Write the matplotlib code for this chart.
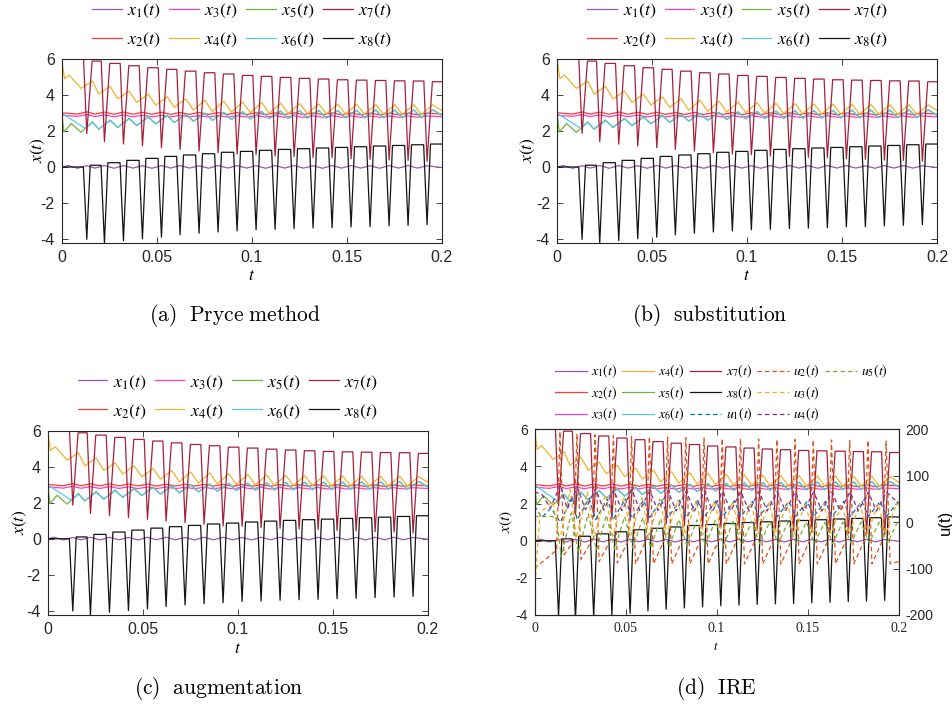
import matplotlib
matplotlib.use("Agg")
import matplotlib.pyplot as plt
from matplotlib.font_manager import FontProperties
from matplotlib.lines import Line2D

# times of the x7 / x8 troughs, one per switching cycle
t_drop = [0.0132, 0.0225, 0.0325, 0.0425, 0.0525, 0.0623, 0.0723, 0.0823, 0.0923, 0.1023,
          0.1123, 0.1223, 0.1323, 0.1423, 0.1523, 0.1623, 0.1723, 0.1823, 0.1923]

# x7: plateau levels (before each drop, last one at t=0.2) and troughs
x7_top = [6.0, 5.9, 5.77, 5.64, 5.53, 5.44, 5.34, 5.25, 5.18, 5.10,
          5.05, 4.99, 4.94, 4.90, 4.86, 4.84, 4.82, 4.80, 4.79, 4.75]
x7_low = [1.87, 1.41, 1.28, 1.17, 1.08, 0.98, 0.89, 0.80, 0.72, 0.69,
          0.61, 0.58, 0.54, 0.52, 0.46, 0.43, 0.39, 0.37, 0.32]
# x8
x8_top = [0.0, 0.1, 0.24, 0.37, 0.48, 0.59, 0.67, 0.74, 0.82, 0.87,
          0.93, 0.98, 1.02, 1.06, 1.09, 1.13, 1.17, 1.2, 1.24, 1.28]
x8_low = [-4.03, -4.25, -4.1, -4.0, -3.91, -3.78, -3.69, -3.62, -3.56, -3.5,
          -3.47, -3.43, -3.40, -3.38, -3.34, -3.32, -3.28, -3.25, -3.21]
# x4
x4_lo = [4.38, 4.06, 3.8, 3.6, 3.45, 3.32, 3.17, 3.1, 3.06, 3.03,
         3.0, 2.98, 2.97, 2.96, 2.95, 2.95, 2.94, 2.94, 2.93]
x4_hi = [4.79, 4.5, 4.23, 4.06, 3.91, 3.8, 3.72, 3.66, 3.62, 3.58,
         3.55, 3.53, 3.51, 3.50, 3.49, 3.48, 3.47, 3.47, 3.46]
# x5
x5_lo = [1.93, 2.1, 2.2, 2.3, 2.4, 2.48, 2.55, 2.6, 2.64, 2.68,
         2.7, 2.71, 2.72, 2.73, 2.74, 2.74, 2.75, 2.75, 2.75]
x5_hi = [2.52, 2.62, 2.71, 2.8, 2.88, 2.95, 3.0, 3.05, 3.08, 3.1,
         3.12, 3.14, 3.15, 3.16, 3.17, 3.18, 3.18, 3.19, 3.19]
# x6
x6_lo = [None, 2.12, 2.22, 2.32, 2.41, 2.49, 2.56, 2.61, 2.65, 2.68,
         2.7, 2.71, 2.72, 2.73, 2.73, 2.74, 2.74, 2.75, 2.75]
x6_hi = [2.48, 2.58, 2.68, 2.77, 2.85, 2.92, 2.98, 3.02, 3.05, 3.08,
         3.1, 3.12, 3.13, 3.14, 3.15, 3.16, 3.16, 3.17, 3.17]
# x1, x2, x3 (small ripple)
x1_lo = [-0.07, -0.06, -0.07, -0.06, -0.07, -0.06, -0.06, -0.07, -0.06, -0.06,
         -0.07, -0.06, -0.06, -0.07, -0.06, -0.06, -0.07, -0.06, -0.06]
x1_hi = [0.07, 0.08, 0.08, 0.07, 0.08, 0.08, 0.07, 0.08, 0.08, 0.07,
         0.08, 0.08, 0.07, 0.08, 0.08, 0.07, 0.08, 0.08, 0.07]
x2_lo = [2.95, 2.95, 2.94, 2.94, 2.94, 2.93, 2.93, 2.93, 2.93, 2.92,
         2.92, 2.92, 2.92, 2.92, 2.91, 2.91, 2.91, 2.91, 2.91]
x2_hi = [3.07, 3.06, 3.06, 3.05, 3.05, 3.04, 3.04, 3.03, 3.03, 3.02,
         3.02, 3.02, 3.01, 3.01, 3.01, 3.0, 3.0, 3.0, 3.0]
x3_lo = [2.82, 2.81, 2.8, 2.8, 2.79, 2.79, 2.79, 2.78, 2.78, 2.78,
         2.78, 2.77, 2.77, 2.77, 2.77, 2.77, 2.77, 2.77, 2.77]
x3_hi = [2.92, 2.9, 2.9, 2.89, 2.88, 2.88, 2.87, 2.87, 2.86, 2.86,
         2.86, 2.85, 2.85, 2.85, 2.85, 2.84, 2.84, 2.84, 2.84]

# inputs u(t) of the IRE run
u1_lo = [0, 5, 5, 8, 8, 10, 10, 10, 12, 12, 12, 12, 12, 12, 12, 12, 12, 12, 12]
u1_hi = [55, 52, 50, 50, 48, 48, 47, 47, 46, 46, 45, 45, 45, 45, 45, 45, 45, 45, 45]
u2_pre = [-55, -42, -40, -40, -40, -38, -38, -38, -38, -38,
          -38, -38, -38, -38, -38, -38, -38, -38, -38]
u2_peak = [195, 190, 188, 186, 185, 184, 183, 182, 181, 180,
           180, 179, 178, 178, 177, 177, 176, 176, 175]
u2_floor = [-70, -80, -85, -88, -90, -90, -90, -90, -90, -90,
            -90, -90, -90, -90, -90, -90, -90, -90, -90]
u3_lo = [-40, -35, -30, -30, -28, -28, -27, -27, -26, -26,
         -26, -25, -25, -25, -25, -25, -25, -25, -25]
u3_hi = [70, 65, 60, 55, 52, 50, 48, 46, 45, 44, 43, 42, 42, 41, 41, 40, 40, 40, 40]
u4_lo = [30, 28, 27, 26, 25, 25, 25, 24, 24, 24, 24, 24, 24, 24, 24, 24, 24, 24, 24]
u4_hi = [80, 75, 72, 70, 70, 68, 68, 67, 67, 66, 66, 66, 66, 65, 65, 65, 65, 65, 65]
u5_lo = [-75, -65, -60, -58, -56, -55, -54, -52, -50, -50,
         -48, -48, -47, -47, -46, -46, -45, -45, -45]
u5_hi = [20, 18, 15, 12, 10, 8, 6, 5, 4, 3, 2, 2, 1, 1, 0, 0, 0, 0, 0]

x_colors = ['#9b55b4', '#ff3a3a', '#ff40b8', '#f0b232', '#78b040', '#5ac6f0', '#a6203c', '#151515']
u_colors = ['#0072bd', '#d95319', '#edb120', '#7e2f8e', '#77ac30']


def cyc(head_t, head_y, keys, end):
    t, y = list(head_t), list(head_y)
    for k, tt in enumerate(t_drop):
        for off, vals in keys:
            if vals[k] is not None:
                t.append(tt + off)
                y.append(vals[k])
    t.append(0.2)
    y.append(end)
    return t, y


x_series = [
    cyc([0, 0.0035], [0.0, 0.08], [(-0.005, x1_lo), (0.0, x1_hi)], -0.03),
    cyc([0], [3.02], [(-0.005, x2_lo), (0.0, x2_hi)], 2.95),
    cyc([0], [2.88], [(-0.005, x3_lo), (0.0, x3_hi)], 2.8),
    cyc([0, 0.0015, 0.004], [6.0, 4.92, 5.12], [(-0.003, x4_lo), (0.003, x4_hi)], 3.15),
    cyc([0, 0.0012, 0.005], [3.0, 1.95, 2.42], [(-0.003, x5_lo), (0.003, x5_hi)], 2.9),
    cyc([0, 0.0125], [3.0, 2.15], [(-0.003, x6_lo), (0.003, x6_hi)], 2.88),
    cyc([0], [x7_top[0]], [(-0.0017, x7_top[:-1]), (0.0, x7_low), (0.0028, x7_top[1:])], x7_top[-1]),
    cyc([0], [x8_top[0]], [(-0.0018, x8_top[:-1]), (0.0, x8_low), (0.0018, x8_top[1:])], x8_top[-1]),
]
u_series = [
    cyc([0, 0.004, 0.009], [35, 10, 30], [(0.001, u1_lo), (0.0075, u1_hi)], 40),
    cyc([0, 0.0122], [-100, -60], [(-0.001, u2_pre), (0.0008, u2_peak), (0.003, u2_floor)], -85),
    cyc([0, 0.003, 0.01], [-150, 20, 45], [(0.0005, u3_lo), (0.0065, u3_hi)], 35),
    cyc([0, 0.004], [65, 60], [(-0.0045, u4_lo), (0.001, u4_hi)], 40),
    cyc([0, 0.012], [12, 12], [(0.0015, u5_lo), (0.007, u5_hi)], -5),
]

x_labels = [r'$x_{%d}(t)$' % i for i in range(1, 9)]
u_labels = [r'$u_{%d}(t)$' % i for i in range(1, 6)]

fig = plt.figure(figsize=(9.53, 7.06), dpi=100)

sans = 'Liberation Sans'
ital = FontProperties(size=12.5, math_fontfamily='stix')
leg_font = FontProperties(size=13, math_fontfamily='stix')
cap = FontProperties(size=15.5, math_fontfamily='cm')
LW = 0.9


def setup(ax, ylim, tick_size, xfont=sans):
    ax.set_xlim(0, 0.2)
    ax.set_ylim(*ylim)
    ax.set_xticks([0, 0.05, 0.1, 0.15, 0.2])
    ax.set_xticklabels(['0', '0.05', '0.1', '0.15', '0.2'], family=xfont, size=tick_size)
    ax.set_yticks([-4, -2, 0, 2, 4, 6])
    ax.set_yticklabels(['-4', '-2', '0', '2', '4', '6'], family=sans, size=tick_size)
    ax.tick_params(direction='in', length=4, width=0.6, top=True, right=True, pad=5,
                   colors='#262626')
    for s in ax.spines.values():
        s.set_linewidth(0.8)
        s.set_color('#262626')


panels = [
    ([61.7, 59.3, 441.7, 243.3], (0.254, 0.9646), (38, 150), (252, 275), (235, 315), '(a)\\ \\ Pryce\\ method'),
    ([557.0, 59.3, 937.0, 243.3], (0.774, 0.9646), (528, 150), (747, 275), (710, 315), '(b)\\ \\ substitution'),
    ([47.7, 431.0, 427.7, 615.0], (0.239, 0.438), (20, 522), (238, 648), (219, 689), '(c)\\ \\ augmentation'),
]

W, H = 953.0, 706.0
for box, leg_c, ylab, xlab, cap_xy, cap_txt in panels:
    ax = fig.add_axes([box[0] / W, 1 - box[3] / H, (box[2] - box[0]) / W, (box[3] - box[1]) / H])
    handles = []
    for (t, y), c, lab in zip(x_series, x_colors, x_labels):
        handles += ax.plot(t, y, color=c, lw=LW, label=lab)
    setup(ax, (-4.25, 6), 11.5)
    fig.legend(handles, x_labels, loc='center', bbox_to_anchor=leg_c, ncol=4, frameon=False,
               prop=leg_font, handlelength=1.65, handletextpad=0.3, columnspacing=0.45,
               labelspacing=0.55)
    fig.text(ylab[0] / W, 1 - ylab[1] / H, r'$x(t)$', fontproperties=ital, rotation=90,
             ha='center', va='center')
    fig.text(xlab[0] / W, 1 - xlab[1] / H, r'$t$', fontproperties=ital, ha='center', va='center')
    fig.text(cap_xy[0] / W, 1 - cap_xy[1] / H, r'$\mathrm{%s}$' % cap_txt, fontproperties=cap,
             ha='center', va='center')

# panel (d): IRE, states on the left axis, inputs on the right axis
box = [534.5, 429.3, 898.7, 615.0]
axd = fig.add_axes([box[0] / W, 1 - box[3] / H, (box[2] - box[0]) / W, (box[3] - box[1]) / H])
hx = []
for (t, y), c in zip(x_series, x_colors):
    hx += axd.plot(t, y, color=c, lw=LW)
setup(axd, (-4, 6), 10, xfont='Liberation Serif')
axd.tick_params(right=False)
axu = axd.twinx()
hu = []
for (t, y), c in zip(u_series, u_colors):
    hu += axu.plot(t, y, color=c, lw=LW, ls=(0, (3.5, 2.5)))
axu.set_ylim(-200, 200)
axu.set_yticks([-200, -100, 0, 100, 200])
axu.set_yticklabels(['-200', '-100', '0', '100', '200'], family=sans, size=10)
axu.tick_params(direction='in', length=4, width=0.6, pad=5, colors='#262626')
for s in axu.spines.values():
    s.set_linewidth(0.8)
    s.set_color('#262626')

# column-major legend: pad the last column with two empty entries
blank = Line2D([], [], lw=0, alpha=0)
small = FontProperties(size=10, math_fontfamily='stix')
fig.legend(hx + hu + [blank, blank], x_labels + u_labels + ['', ''], loc='center',
           bbox_to_anchor=(0.757, 0.4433), ncol=5, frameon=False, prop=small,
           handlelength=2.3, handletextpad=0.3, columnspacing=0.35, labelspacing=0.3)
fig.text(506 / W, 1 - 522 / H, r'$x(t)$', fontproperties=FontProperties(size=11, math_fontfamily='stix'),
         rotation=90, ha='center', va='center')
fig.text(945 / W, 1 - 522 / H, 'u(t)', family=sans, size=12, rotation=90, ha='center', va='center')
fig.text(716 / W, 1 - 646 / H, r'$t$', fontproperties=FontProperties(size=9, math_fontfamily='stix'),
         ha='center', va='center')
fig.text(716 / W, 1 - 689 / H, r'$\mathrm{(d)\ \ IRE}$', fontproperties=cap, ha='center', va='center')

fig.savefig('out.png', dpi=100)
